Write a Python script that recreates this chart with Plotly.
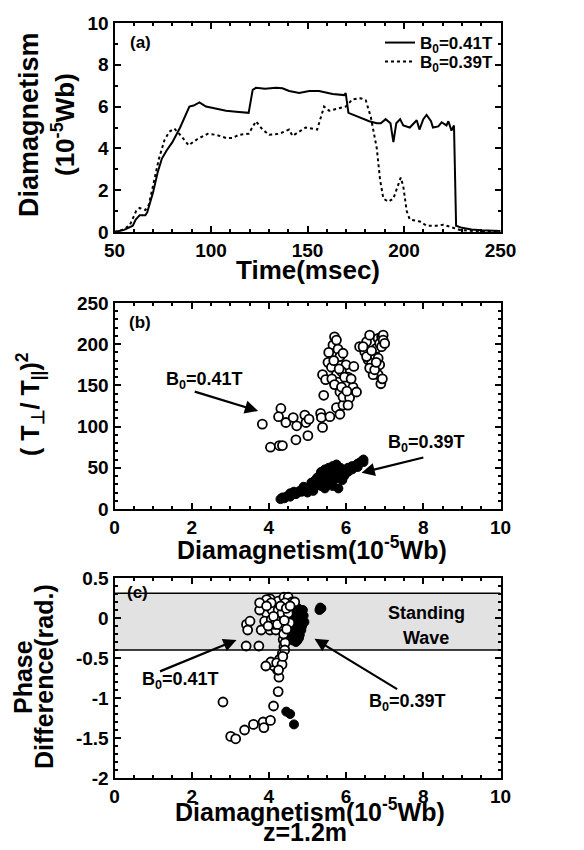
import plotly.graph_objects as go

# ---------------- Panel (a): time traces ----------------
t_041 = [50, 55, 59.5, 61, 63, 66, 67, 70, 72.5, 74.5, 77, 80, 84, 88.8, 91, 94, 97.4, 102, 107.8, 113, 119.5,
         121.6, 123.3, 128, 133.6, 137, 140.5, 145.7, 150.9, 156, 163, 169, 169.8, 171.2, 176.7, 182, 185.9,
         188, 190.5, 193, 194.5, 196, 198, 199.6, 203, 206.6, 208, 210, 211.7, 214, 215, 217.8, 219.5, 222,
         223, 224.6, 225.9, 227, 230, 235, 240, 245, 250]
v_041 = [0.0, 0.1, 0.3, 0.6, 0.8, 0.8, 0.95, 1.9, 2.9, 3.5, 3.9, 4.3, 5.0, 6.0, 6.05, 6.2, 6.0, 5.9, 5.8, 5.75, 5.7,
         6.8, 6.9, 6.85, 6.9, 6.88, 6.75, 6.65, 6.75, 6.75, 6.6, 6.55, 6.65, 5.7, 5.5, 5.3, 5.2,
         5.2, 5.4, 5.2, 4.3, 5.2, 5.4, 5.1, 5.0, 5.35, 4.9, 5.4, 5.6, 5.3, 5.0, 5.05, 5.25, 5.1,
         5.3, 4.85, 5.1, 0.3, 0.2, 0.12, 0.08, 0.05, 0.05]

t_039 = [50, 54, 57.8, 61.2, 63, 66, 67.8, 70.7, 73, 75.9, 78.4, 81, 84.5, 88.4, 93, 98.3, 102.6, 107.8, 111,
         114.5, 119.5, 123.3, 126.7, 130.2, 135.3, 140.5, 142.2, 145.7, 149, 155, 156.4, 158.6, 161.2, 166.4,
         169.8, 173.3, 177.6, 180.2, 182.8, 185.9, 187.6, 189.3, 191.9, 194.5, 197, 198.3, 199.6, 201.4, 203,
         208.3, 211.7, 217, 220.4, 224, 229, 236, 250]
v_039 = [0.0, 0.1, 0.3, 1.0, 1.15, 1.05, 1.3, 2.5, 3.5, 4.4, 4.8, 4.95, 4.6, 4.15, 4.45, 4.7, 4.65, 4.5, 4.5,
         4.65, 4.7, 5.3, 4.9, 4.65, 4.7, 4.9, 4.6, 4.8, 5.0, 4.9, 5.3, 6.0, 5.8, 5.9,
         6.0, 6.35, 6.4, 6.3, 5.5, 4.0, 2.5, 1.6, 1.45, 1.6, 2.2, 2.6, 2.2, 1.0, 0.6,
         0.5, 0.3, 0.3, 0.35, 0.25, 0.1, 0.05, 0.05]

# ---------------- Panel (b): anisotropy vs diamagnetism ----------------
b_open_x = [3.83, 4.04, 4.27, 4.35, 4.31, 4.25, 4.44, 4.63, 4.72, 4.70, 4.93, 4.96, 5.01, 5.04, 5.34, 5.36, 5.39,
            5.58, 5.42, 5.39, 5.47, 5.53, 5.62, 5.66, 5.70, 5.75, 5.79, 5.84, 5.75, 5.79, 5.84, 5.75, 5.84, 5.92,
            5.92, 6.00, 6.05, 6.00, 5.92, 6.09, 6.18, 6.20, 6.27, 5.63, 5.70, 5.88, 5.96, 6.13, 6.05, 5.88,
            6.35, 6.48, 6.53, 6.61, 6.57, 6.66, 6.74, 6.78, 6.83, 6.87, 6.92, 6.96, 6.92, 6.87, 6.83, 6.90,
            6.94, 6.70, 6.61, 6.74, 6.83, 6.96, 6.53, 6.44, 7.00, 5.68, 5.82, 5.55, 6.02, 6.78, 6.66]
b_open_y = [103, 75, 77, 77, 122, 112, 105, 111, 101, 84, 114, 105, 89, 109, 116, 111, 99,
            112, 138, 163, 157, 178, 172, 199, 209, 205, 194, 185, 163, 154, 142, 123, 115, 126,
            136, 150, 160, 175, 189, 135, 148, 173, 142, 158, 151, 167, 160, 158, 126, 148,
            197, 191, 203, 211, 181, 177, 187, 195, 207, 201, 209, 211, 197, 175, 163, 152,
            158, 163, 171, 169, 183, 205, 185, 197, 201, 180, 170, 190, 143, 178, 192]
b_fill_x = [4.30, 4.35, 4.40, 4.45, 4.50, 4.55, 4.60, 4.70, 4.75, 4.80, 4.85, 4.90, 4.95, 5.00, 5.05, 5.10, 5.15,
            5.20, 5.20, 5.25, 5.30, 5.30, 5.35, 5.35, 5.40, 5.40, 5.45, 5.45, 5.50, 5.50, 5.55, 5.55, 5.60, 5.60,
            5.65, 5.65, 5.70, 5.70, 5.75, 5.75, 5.80, 5.80, 5.85, 5.90, 5.90, 5.95, 6.00, 6.05, 6.10, 6.15,
            6.20, 6.25, 6.30, 6.35, 6.40, 6.45, 6.45, 5.55, 5.45, 5.00, 5.60, 5.65,
            4.65, 4.90, 5.10, 5.25, 5.35, 5.50, 5.60, 5.70, 5.85, 5.95, 6.05, 6.15, 6.30, 5.15, 5.40, 4.55]
b_fill_y = [12, 14, 13, 15, 16, 15, 18, 18, 20, 22, 21, 24, 22, 25, 23, 27, 25,
            28, 35, 30, 33, 40, 36, 45, 38, 30, 42, 48, 40, 35, 44, 50, 38, 46,
            52, 42, 48, 36, 45, 54, 42, 25, 40, 44, 35, 46, 48, 45, 50, 52,
            50, 53, 55, 56, 58, 60, 57, 30, 25, 20, 33, 28,
            21, 27, 32, 38, 28, 46, 42, 52, 50, 40, 50, 48, 51, 22, 44, 19]

# ---------------- Panel (c): phase difference ----------------
c_open_x = [2.81, 3.01, 3.14, 3.37, 3.60, 3.85, 3.87, 4.04, 4.12, 4.24, 4.26, 4.22, 4.13, 4.05, 3.92, 3.41,
            3.74, 3.42, 3.51, 3.45, 4.03, 3.94, 3.84, 3.94, 3.89, 4.03, 4.18, 4.17, 4.06, 4.08, 4.24, 4.24,
            4.39, 4.50, 4.60, 4.67, 4.42, 4.34, 4.34, 4.50, 4.54, 4.37, 4.39, 4.35, 4.31, 4.27, 4.42, 4.20,
            4.34, 4.25, 3.76, 3.76, 4.06, 3.94, 4.15, 3.80, 4.30, 4.12, 4.45, 3.98, 4.22, 4.40, 4.55, 4.38,
            4.46, 4.41, 4.36]
c_open_y = [-1.05, -1.48, -1.51, -1.40, -1.33, -1.30, -1.37, -1.28, -1.10, -0.92, -0.74, -0.65, -0.60, -0.55,
            -0.60, -0.35, -0.35, -0.08, -0.04, -0.15, 0.24, 0.23, 0.10, 0.06, -0.04, -0.15, -0.15, -0.02,
            -0.02, 0.10, 0.10, 0.21, 0.26, 0.26, 0.20, 0.20, 0.19, 0.06, -0.10, 0.06, -0.06, -0.27, -0.36,
            -0.44, -0.50, -0.52, -0.31, -0.56, -0.58, -0.65, 0.10, 0.19, 0.19, 0.15, -0.08, -0.15, 0.15,
            0.02, 0.12, -0.10, -0.08, -0.03, 0.15, -0.20, -0.14, -0.40, -0.48]
c_fill_x = [4.67, 4.80, 4.88, 4.84, 4.75, 4.80, 4.67, 4.58, 4.54, 4.71, 4.63, 4.84, 4.50, 4.88, 4.58, 4.75,
            4.62, 4.70, 4.78, 4.86, 4.90, 4.55, 4.68, 4.76, 4.60, 4.72, 4.82, 4.66, 4.52, 4.74,
            4.48, 4.53, 4.60, 4.92, 4.57, 4.64,
            5.36, 5.31, 5.33, 4.45, 4.55, 4.65]
c_fill_y = [0.10, 0.06, 0.10, 0.00, -0.10, -0.21, -0.17, -0.06, 0.04, -0.02, -0.23, -0.15, -0.12, -0.06,
            0.12, -0.25, -0.28, -0.30, -0.25, -0.10, 0.03, -0.18, 0.05, 0.12, 0.08, -0.08, -0.03, -0.12,
            -0.22, -0.28, 0.02, -0.05, -0.20, -0.05, 0.10, 0.15,
            0.12, 0.10, 0.13, -1.17, -1.20, -1.33]

band_low, band_high = -0.4, 0.31

a_xticks = [50, 100, 150, 200, 250]
a_yticks = [0, 2, 4, 6, 8, 10]
b_xticks = [0, 2, 4, 6, 8, 10]
b_yticks = [0, 50, 100, 150, 200, 250]
c_yticks = [0.5, 0, -0.5, -1, -1.5, -2]
c_ytext = ["0.5", "0", "-0.5", "-1", "-1.5", "-2"]

FONT = "Liberation Sans"
W, H = 584, 850


def px_x(p):
    return p / W


def px_y(p):
    return 1 - p / H


fig = go.Figure()

fig.add_trace(go.Scatter(x=t_041, y=v_041, mode="lines", name="B<sub>0</sub>=0.41T", legend="legend",
                         line=dict(color="black", width=2), xaxis="x", yaxis="y"))
fig.add_trace(go.Scatter(x=t_039, y=v_039, mode="lines", name="B<sub>0</sub>=0.39T", legend="legend2",
                         line=dict(color="black", width=2, dash="dot"), xaxis="x", yaxis="y"))

fig.add_trace(go.Scatter(x=b_fill_x, y=b_fill_y, mode="markers", showlegend=False,
                         marker=dict(color="black", size=9, line=dict(color="black", width=1)),
                         xaxis="x2", yaxis="y2"))
fig.add_trace(go.Scatter(x=b_open_x, y=b_open_y, mode="markers", showlegend=False,
                         marker=dict(color="white", size=9, line=dict(color="black", width=1.8)),
                         xaxis="x2", yaxis="y2"))

fig.add_trace(go.Scatter(x=c_fill_x, y=c_fill_y, mode="markers", showlegend=False,
                         marker=dict(color="black", size=9, line=dict(color="black", width=1)),
                         xaxis="x3", yaxis="y3"))
fig.add_trace(go.Scatter(x=c_open_x, y=c_open_y, mode="markers", showlegend=False,
                         marker=dict(color="white", size=9, line=dict(color="black", width=1.8)),
                         xaxis="x3", yaxis="y3"))

dom_x = [px_x(114.5), px_x(500.5)]
tickfont = dict(family=FONT, size=19, color="black", weight="bold")
axis_common = dict(showline=True, linecolor="black", linewidth=2, mirror="ticks", ticks="inside",
                   ticklen=6, tickwidth=1.5, tickcolor="black", showgrid=False, zeroline=False,
                   tickfont=tickfont, automargin=False)
legend_font = dict(family=FONT, size=17, color="black", weight="bold")

fig.update_layout(
    width=W, height=H, margin=dict(l=0, r=0, t=0, b=0, autoexpand=False),
    paper_bgcolor="white", plot_bgcolor="white",
    font=dict(family=FONT, color="black", weight="bold"),
    xaxis=dict(domain=dom_x, anchor="y", range=[50, 250], tickvals=a_xticks,
               minor=dict(ticks="inside", ticklen=3, dtick=10, tickcolor="black"), **axis_common),
    yaxis=dict(domain=[px_y(232), px_y(23)], anchor="x", range=[0, 10], tickvals=a_yticks,
               minor=dict(ticks="inside", ticklen=3, dtick=1, tickcolor="black"), **axis_common),
    xaxis2=dict(domain=dom_x, anchor="y2", range=[0, 10], tickvals=b_xticks,
                minor=dict(ticks="inside", ticklen=3, dtick=0.5, tickcolor="black"), **axis_common),
    yaxis2=dict(domain=[px_y(509), px_y(303)], anchor="x2", range=[0, 250], tickvals=b_yticks,
                minor=dict(ticks="inside", ticklen=3, dtick=10, tickcolor="black"), **axis_common),
    xaxis3=dict(domain=dom_x, anchor="y3", range=[0, 10], tickvals=b_xticks,
                minor=dict(ticks="inside", ticklen=3, dtick=0.5, tickcolor="black"), **axis_common),
    yaxis3=dict(domain=[px_y(778), px_y(578)], anchor="x3", range=[-2, 0.5], tickvals=c_yticks,
                ticktext=c_ytext,
                minor=dict(ticks="inside", ticklen=3, dtick=0.1, tickcolor="black"), **axis_common),
    legend=dict(x=px_x(498), y=px_y(43), xanchor="right", yanchor="middle", bgcolor="rgba(0,0,0,0)",
                font=legend_font, itemwidth=30),
    legend2=dict(x=px_x(498), y=px_y(62), xanchor="right", yanchor="middle", bgcolor="rgba(0,0,0,0)",
                 font=legend_font, itemwidth=30),
    showlegend=True,
)

# Standing-wave band in panel (c)
fig.add_shape(type="rect", xref="x3", yref="y3", x0=0, x1=10, y0=band_low, y1=band_high,
              fillcolor="#e2e2e2", line=dict(width=0), layer="below")
for yv in (band_low, band_high):
    fig.add_shape(type="line", xref="x3", yref="y3", x0=0, x1=10, y0=yv, y1=yv,
                  line=dict(color="black", width=1.5))

ann = []


def text(x, y, s, size=18, xref="paper", yref="paper", angle=0, xanchor="center"):
    ann.append(dict(x=x, y=y, xref=xref, yref=yref, text=s, showarrow=False, textangle=angle,
                    xanchor=xanchor, yanchor="middle",
                    font=dict(family=FONT, size=size, color="black", weight="bold")))


def arrow(x_tail, y_tail, x_head, y_head, xr, yr):
    ann.append(dict(x=x_head, y=y_head, ax=x_tail, ay=y_tail, xref=xr, yref=yr, axref=xr, ayref=yr,
                    text="", showarrow=True, arrowhead=2, arrowsize=1.2, arrowwidth=2.2,
                    arrowcolor="black"))


# panel labels
text(px_x(140), px_y(43), "(a)", size=17)
text(px_x(140), px_y(322), "(b)", size=17)
text(px_x(137), px_y(592), "(c)", size=17)

# axis titles
text(px_x(29), px_y(125), "Diamagnetism", size=27, angle=-90)
text(px_x(63), px_y(125), "(10<sup>-5</sup>Wb)", size=26, angle=-90)
text(px_x(308), px_y(270), "Time(msec)", size=26)

text(px_x(30), px_y(404), "( T<sub>⊥</sub>/ T<sub>||</sub>)<sup>2</sup>", size=25, angle=-90)
text(px_x(312), px_y(548), "Diamagnetism(10<sup>-5</sup>Wb)", size=25)

text(px_x(23), px_y(677), "Phase", size=25, angle=-90)
text(px_x(44), px_y(677), "Difference(rad.)", size=25, angle=-90)
text(px_x(310), px_y(810), "Diamagnetism(10<sup>-5</sup>Wb)", size=25)
text(px_x(305), px_y(832), "z=1.2m", size=25)

# panel (b) annotations
text(2.33, 156, "B<sub>0</sub>=0.41T", size=18, xref="x2", yref="y2")
arrow(2.04, 143, 3.72, 119, "x2", "y2")
text(8.07, 80, "B<sub>0</sub>=0.39T", size=18, xref="x2", yref="y2")
arrow(8.04, 63, 6.4, 44, "x2", "y2")

# panel (c) annotations
text(1.71, -0.775, "B<sub>0</sub>=0.41T", size=18, xref="x3", yref="y3")
arrow(1.14, -0.675, 3.16, -0.275, "x3", "y3")
text(7.59, -1.05, "B<sub>0</sub>=0.39T", size=18, xref="x3", yref="y3")
arrow(7.36, -0.9, 5.18, -0.26, "x3", "y3")
text(8.08, 0.06, "Standing", size=18, xref="x3", yref="y3")
text(8.08, -0.25, "Wave", size=18, xref="x3", yref="y3")

fig.update_layout(annotations=ann)

fig.write_html("out.html")
